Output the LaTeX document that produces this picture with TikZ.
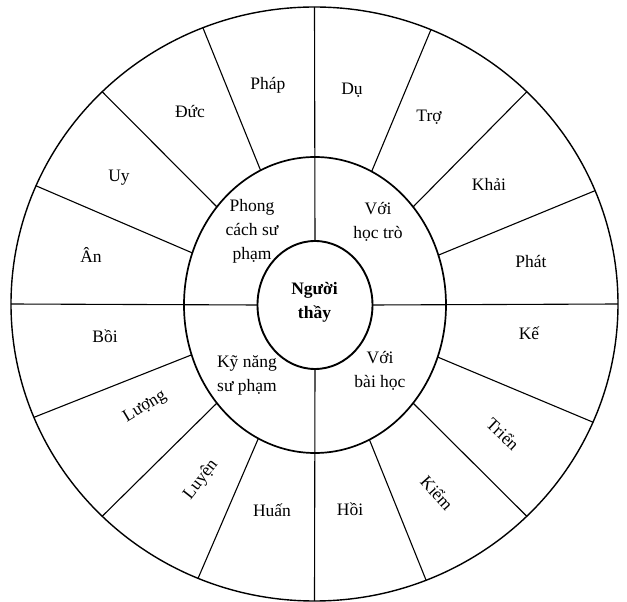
\documentclass[tikz,border=0pt]{standalone}
\usepackage{fontspec}
\setmainfont{Liberation Serif}
\usetikzlibrary{shapes.geometric}
\begin{document}
\begin{tikzpicture}[x=1pt,y=1pt,
  ring/.style={draw, ellipse, inner sep=0pt, outer sep=0pt},
  lbl/.style={font=\fontsize{17.5}{24}\selectfont, align=center, inner sep=0pt},
  spoke/.style={line width=1.1pt}]
\useasboundingbox (-314.5,-298) rectangle (312.5,304);
\node[ring, line width=1.4pt, minimum width=607, minimum height=594] (outer) at (0,0) {};
\node[ring, line width=1.7pt, minimum width=262, minimum height=296] (mid) at (0.5,-1) {};
\node[ring, line width=1.9pt, minimum width=115, minimum height=128] (core) at (0.5,-1) {};
\foreach \a in {22.5,45,67.5,112.5,135,157.5,202.5,225,247.5,292.5,315,337.5}
  \draw[spoke] (mid.\a) -- (outer.\a);
\foreach \a in {0,90,180,270}
  \draw[spoke] (core.\a) -- (outer.\a);
% centre
\node[lbl, font=\fontsize{17.5}{24}\selectfont\bfseries] (nt) at (0,2) {Người\\thầy};
% middle ring
\node[lbl] (pc) at (-62.5,73) {Phong\\cách sư\\phạm};
\node[lbl] (ht) at (63.5,82) {Với\\học trò};
\node[lbl] (kn) at (-67.5,-71) {Kỹ năng\\sư phạm};
\node[lbl] (bh) at (65.5,-67) {Với\\bài học};
% outer ring
\node[lbl] (du) at (37.5,214) {Dụ};
\node[lbl] (tro) at (114.5,187) {Trợ};
\node[lbl] (khai) at (174.5,119) {Khải};
\node[lbl] (phat) at (216.5,42) {Phát};
\node[lbl] (ke) at (214.5,-29) {Kế};
\node[lbl, rotate=-43] (trien) at (188.5,-130) {Triển};
\node[lbl, rotate=-48] (kiem) at (122.5,-189) {Kiểm};
\node[lbl] (hoi) at (35.5,-205) {Hồi};
\node[lbl] (huan) at (-42.5,-206) {Huấn};
\node[lbl, rotate=52] (luyen) at (-113.5,-176) {Luyện};
\node[lbl, rotate=31] (luong) at (-169.5,-103) {Lượng};
\node[lbl] (boi) at (-209.5,-32) {Bồi};
\node[lbl] (an) at (-223.5,49) {Ân};
\node[lbl] (uy) at (-195.5,126) {Uy};
\node[lbl] (duc) at (-124.5,192) {Đức};
\node[lbl] (phap) at (-46.5,219) {Pháp};
\end{tikzpicture}
\end{document}
